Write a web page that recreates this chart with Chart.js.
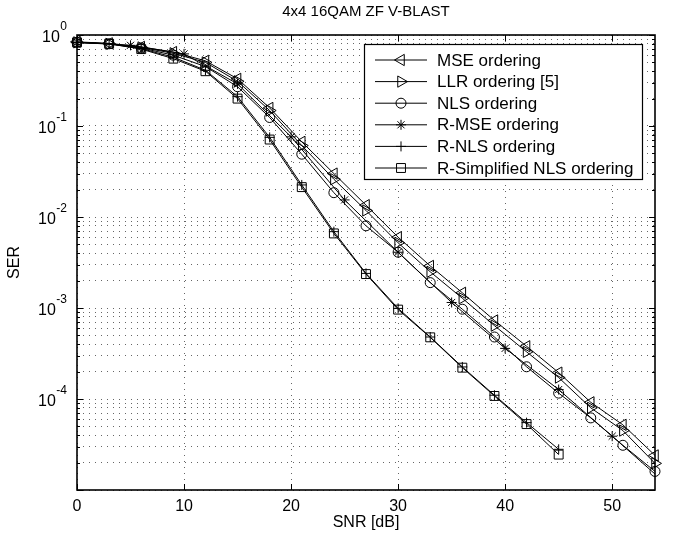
<!DOCTYPE html>
<html><head><meta charset="utf-8">
<script src="https://cdn.jsdelivr.net/npm/chart.js@4.4.1/dist/chart.umd.min.js"></script>
<style>html,body{margin:0;padding:0;background:#fff}#wrap{width:677px;height:538px}</style>
</head><body><div id="wrap"><canvas id="c" width="677" height="538"></canvas></div>
<script>
// ---- data ----
const snr3 = [0,3,6,9,12,15,18,21,24,27,30,33,36,39,42,45,48,51,54];
const snr5 = [0,5,10,15,20,25,30,35,40,45,50,55];
const serMSE  = [0.84,0.81,0.74,0.65,0.52,0.33,0.158,0.067,0.030,0.0135,0.0060,0.0029,0.00147,0.00073,0.00038,0.000195,0.000092,0.000052,0.000024];
const serLLR  = [0.83,0.80,0.73,0.63,0.50,0.31,0.148,0.061,0.026,0.0118,0.0052,0.0025,0.00128,0.00064,0.00033,0.000172,0.000080,0.000045,0.0000196];
const serNLS  = [0.83,0.80,0.72,0.60,0.45,0.27,0.124,0.049,0.0185,0.0080,0.0041,0.0019,0.00097,0.00048,0.000226,0.000116,0.000062,0.000031,0.000016];
const serRMSE = [0.83,0.77,0.62,0.29,0.076,0.0154,0.0041,0.00115,0.00036,0.000127,0.000039,0.0000118];
const serRNLS = [0.83,0.80,0.71,0.57,0.41,0.21,0.075,0.0225,0.0069,0.0024,0.00099,0.00048,0.000225,0.00011,0.000055,0.000028];
const serRSNLS= [0.83,0.80,0.70,0.55,0.40,0.20,0.071,0.0213,0.0066,0.00236,0.00096,0.000476,0.000221,0.000108,0.000053,0.0000245];
const seriesNames = ['MSE ordering','LLR ordering [5]','NLS ordering','R-MSE ordering','R-NLS ordering','R-Simplified NLS ordering'];
const xTickValues = [0,10,20,30,40,50];
const yLabelExponents = [0,-1,-2,-3,-4];
const yDecadeExponents = [-5,-4,-3,-2,-1];
const titleText = '4x4 16QAM ZF V-BLAST';
const xTitle = 'SNR [dB]';
const yTitle = 'SER';

// ---- build ----
const FONT = "'Liberation Sans', Arial, Helvetica, sans-serif";
Chart.defaults.font.family = FONT;
Chart.defaults.color = '#000';

const pts = (xs, ys) => ys.map((v,i)=>({x: xs[i], y: v}));
const yGridValues = [];
yDecadeExponents.forEach(e => { for (let m=1;m<=9;m++) yGridValues.push(m*Math.pow(10,e)); });
yGridValues.push(1);

const styles = [
  {pointStyle:'triangle', pointRadius:6.5, rotation:-90},
  {pointStyle:'triangle', pointRadius:6.5, rotation:90},
  {pointStyle:'circle', pointRadius:5, rotation:0},
  {pointStyle:'star', pointRadius:5, rotation:0},
  {pointStyle:'cross', pointRadius:5, rotation:0},
  {pointStyle:'rect', pointRadius:6.3, rotation:0}
];
const seriesData = [pts(snr3,serMSE), pts(snr3,serLLR), pts(snr3,serNLS), pts(snr5,serRMSE), pts(snr3,serRNLS), pts(snr3,serRSNLS)];

const datasets = seriesData.map((d,i)=>({
  label: seriesNames[i],
  data: d,
  borderColor:'#000', borderWidth:1,
  pointStyle: styles[i].pointStyle,
  pointRadius: styles[i].pointRadius,
  pointRotation: styles[i].rotation,
  pointBorderColor:'#000', pointBorderWidth:1,
  pointBackgroundColor:'rgba(0,0,0,0)',
  pointHoverRadius: styles[i].pointRadius,
  tension:0, fill:false,
  clip: i===3 ? {left:12, top:12, right:0, bottom:12} : false
}));

const matlabAxes = {
  id:'matlabAxes',
  afterDraw(chart){
    const {ctx, chartArea:a, scales:{x,y}} = chart;
    ctx.save();
    // inward tick marks
    ctx.strokeStyle='#000'; ctx.lineWidth=1;
    ctx.beginPath();
    xTickValues.forEach(v=>{
      const px = Math.round(x.getPixelForValue(v))+0.5;
      ctx.moveTo(px,a.bottom); ctx.lineTo(px,a.bottom-6);
      ctx.moveTo(px,a.top); ctx.lineTo(px,a.top+6);
    });
    yGridValues.forEach(v=>{
      const py = Math.round(y.getPixelForValue(v))+0.5;
      const lg = Math.log10(v);
      const len = Math.abs(lg-Math.round(lg))<1e-9 ? 6 : 3;
      ctx.moveTo(a.left,py); ctx.lineTo(a.left+len,py);
      ctx.moveTo(a.right,py); ctx.lineTo(a.right-len,py);
    });
    ctx.stroke();
    // box
    ctx.lineWidth=1.6;
    ctx.strokeRect(a.left,a.top,a.right-a.left,a.bottom-a.top);
    // y tick labels with superscript exponent
    ctx.fillStyle='#000';
    ctx.textBaseline='middle';
    yLabelExponents.forEach(e=>{
      const py = y.getPixelForValue(Math.pow(10,e));
      const rightX = a.left - 10;
      ctx.font = '12px ' + FONT;
      const expStr = String(e);
      const ew = ctx.measureText(expStr).width;
      ctx.textAlign='left';
      ctx.fillText(expStr, rightX-ew, py-8);
      ctx.font = '16px ' + FONT;
      ctx.textAlign='right';
      ctx.fillText('10', rightX-ew-0.5, py+3);
    });
    ctx.restore();
  }
};

const matlabLegend = {
  id:'matlabLegend',
  afterDraw(chart){
    const {ctx, chartArea:a} = chart;
    const bx = a.right-291, by = a.top+9, bw = 278, bh = 135;
    ctx.save();
    ctx.fillStyle='#fff'; ctx.fillRect(bx,by,bw,bh);
    ctx.strokeStyle='#000'; ctx.lineWidth=1.2;
    ctx.strokeRect(bx+0.5,by+0.5,bw,bh);
    ctx.font='17px '+FONT; ctx.textBaseline='middle'; ctx.textAlign='left'; ctx.fillStyle='#000';
    chart.data.datasets.forEach((ds,i)=>{
      const ry = by + 16 + i*21.6;
      ctx.lineWidth=1; ctx.strokeStyle='#000';
      ctx.beginPath(); ctx.moveTo(bx+11,ry); ctx.lineTo(bx+63,ry); ctx.stroke();
      const opts = {pointStyle: ds.pointStyle, radius: ds.pointRadius, rotation: ds.pointRotation, borderWidth:1};
      ctx.fillStyle='rgba(0,0,0,0)';
      Chart.helpers.drawPoint(ctx, opts, bx+37, ry);
      ctx.fillStyle='#000';
      ctx.fillText(ds.label, bx+73, ry+1);
    });
    ctx.restore();
  }
};

new Chart(document.getElementById('c'), {
  type:'line',
  data:{datasets},
  options:{
    responsive:false, animation:false, devicePixelRatio:1,
    layout:{padding:{left:0,right:22,top:0,bottom:0}},
    plugins:{
      legend:{display:false}, tooltip:{enabled:false},
      title:{display:true, fullSize:false, text:titleText, color:'#000', font:{size:15, weight:'normal'}, padding:{top:3,bottom:14}}
    },
    scales:{
      x:{type:'linear', min:0, max:54,
        afterBuildTicks(s){ s.ticks = xTickValues.map(v=>({value:v})); },
        afterFit(s){ s.height = 48; },
        ticks:{autoSkip:false, padding:7, font:{size:16}, color:'#000', maxRotation:0, callback:v=>String(v)},
        grid:{color:'#666', lineWidth:1, drawTicks:false, borderDash:[1,5]},
        border:{display:false, dash:[1,5]},
        title:{display:true, text:xTitle, font:{size:16}, color:'#000', padding:{top:0,bottom:6}}
      },
      y:{type:'logarithmic', min:1e-5, max:1,
        afterBuildTicks(s){ s.ticks = yGridValues.map(v=>({value:v})); },
        afterFit(s){ s.width = 77; },
        ticks:{autoSkip:false, callback:()=>'', padding:0},
        grid:{color:'#666', lineWidth:1, drawTicks:false, borderDash:[1,5]},
        border:{display:false, dash:[1,5]},
        title:{display:true, text:yTitle, font:{size:16}, color:'#000', padding:{top:5,bottom:0}}
      }
    }
  },
  plugins:[matlabAxes, matlabLegend]
});
</script></body></html>
